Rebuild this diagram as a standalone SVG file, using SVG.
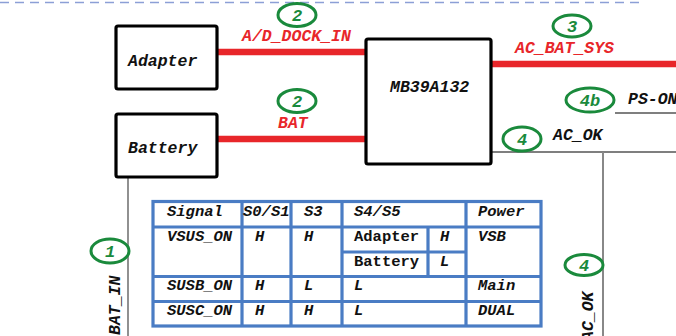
<svg xmlns="http://www.w3.org/2000/svg" width="676" height="336" viewBox="0 0 676 336">
<style>
.box{fill:#fff;stroke:#000;stroke-width:3.2}
.lbl{font-family:"Liberation Mono",monospace;font-weight:bold;font-style:italic;font-size:16.5px;fill:#111}
.red{font-family:"Liberation Mono",monospace;font-weight:bold;font-style:italic;font-size:16.5px;fill:#e8262a}
.pow{stroke:#e8262a;stroke-width:6.5;stroke-linecap:round;fill:none}
.wire{stroke:#555;stroke-width:1.3;fill:none}
.badge{fill:#fff;stroke:#1a8a3c;stroke-width:3}
.bt{font-family:"Liberation Mono",monospace;font-weight:bold;font-style:italic;font-size:17px;fill:#1a8a3c;text-anchor:middle}
.tb{fill:none;stroke:#4a7cc4;stroke-width:3.2}
.tt{font-family:"Liberation Mono",monospace;font-weight:bold;font-style:italic;font-size:15.5px;fill:#111}
.tn{font-family:"Liberation Mono",monospace;font-weight:bold;font-size:15.5px;fill:#111}
</style>
<line x1="0" y1="2.5" x2="640" y2="2.5" stroke="#8c9fd6" stroke-width="1.3" stroke-dasharray="9,6"/>
<g id="connectors">
<line class="pow" x1="216" y1="52" x2="367" y2="52"/>
<line class="pow" x1="216" y1="139" x2="367" y2="139"/>
<line class="pow" x1="490" y1="64" x2="680" y2="64"/>
<line class="wire" x1="128" y1="177" x2="128" y2="336"/>
<line class="wire" x1="492" y1="152" x2="676" y2="152"/>
<line x1="603" y1="152" x2="603" y2="336" stroke="#888" stroke-width="2"/>
<line class="wire" x1="615" y1="113" x2="676" y2="113"/>
<text class="red" x="242" y="41">A/D_DOCK_IN</text>
<text class="red" x="278" y="128">BAT</text>
<text class="red" x="515" y="53">AC_BAT_SYS</text>
<text class="lbl" x="628" y="104">PS-ON</text>
<text class="lbl" x="553" y="140">AC_OK</text>
<text class="lbl" transform="translate(120,335) rotate(-90)">BAT_IN</text>
<text class="lbl" transform="translate(593,341) rotate(-90)">AC_OK</text>
</g>
<g id="adapter"><rect class="box" x="116" y="26" width="101" height="63" rx="2"/><text class="lbl" x="128" y="66">Adapter</text></g>
<g id="battery"><rect class="box" x="116" y="114" width="101" height="63" rx="2"/><text class="lbl" x="128" y="153">Battery</text></g>
<g id="mb39a132"><rect class="box" x="366" y="39" width="125" height="125" rx="2"/><text class="lbl" x="390" y="92">MB39A132</text></g>
<g id="badge2a"><ellipse class="badge" cx="297" cy="15" rx="19" ry="11.5"/><text class="bt" x="297" y="21">2</text></g>
<g id="badge2b"><ellipse class="badge" cx="297" cy="101" rx="19" ry="11.5"/><text class="bt" x="297" y="107">2</text></g>
<g id="badge3"><ellipse class="badge" cx="572" cy="26" rx="19" ry="11"/><text class="bt" x="572" y="32">3</text></g>
<g id="badge4b"><ellipse class="badge" cx="590" cy="100" rx="24" ry="12"/><text class="bt" x="590" y="106">4b</text></g>
<g id="badge4a"><ellipse class="badge" cx="522" cy="139" rx="19" ry="12"/><text class="bt" x="522" y="145">4</text></g>
<g id="badge1"><ellipse class="badge" cx="110" cy="251" rx="19" ry="12"/><text class="bt" x="110" y="257">1</text></g>
<g id="badge4c"><ellipse class="badge" cx="584" cy="265" rx="19" ry="10.5"/><text class="bt" x="584" y="271">4</text></g>
<g id="table">
<rect class="tb" x="153" y="201.5" width="388" height="124.5"/>
<path class="tb" d="M153 227H541M342 252H466M153 276.5H541M153 301.5H541M242 201.5V326M291 201.5V326M342 201.5V326M466 201.5V326M428 227V276.5"/>
<text class="tt" x="167" y="216">Signal</text>
<text class="tt" x="243" y="216">S0/S1</text>
<text class="tt" x="304" y="216">S3</text>
<text class="tt" x="354" y="216">S4/S5</text>
<text class="tt" x="478" y="216">Power</text>
<text class="tt" x="167" y="241">VSUS_ON</text>
<text class="tt" x="255" y="241">H</text>
<text class="tt" x="304" y="241">H</text>
<text class="tn" x="354" y="241">Adapter</text>
<text class="tt" x="440" y="241">H</text>
<text class="tt" x="478" y="241">VSB</text>
<text class="tn" x="354" y="266">Battery</text>
<text class="tt" x="440" y="266">L</text>
<text class="tt" x="167" y="290">SUSB_ON</text>
<text class="tt" x="255" y="290">H</text>
<text class="tt" x="304" y="290">L</text>
<text class="tt" x="354" y="290">L</text>
<text class="tt" x="478" y="290">Main</text>
<text class="tt" x="167" y="315">SUSC_ON</text>
<text class="tt" x="255" y="315">H</text>
<text class="tt" x="304" y="315">H</text>
<text class="tt" x="354" y="315">L</text>
<text class="tt" x="478" y="315">DUAL</text>
</g>
</svg>
